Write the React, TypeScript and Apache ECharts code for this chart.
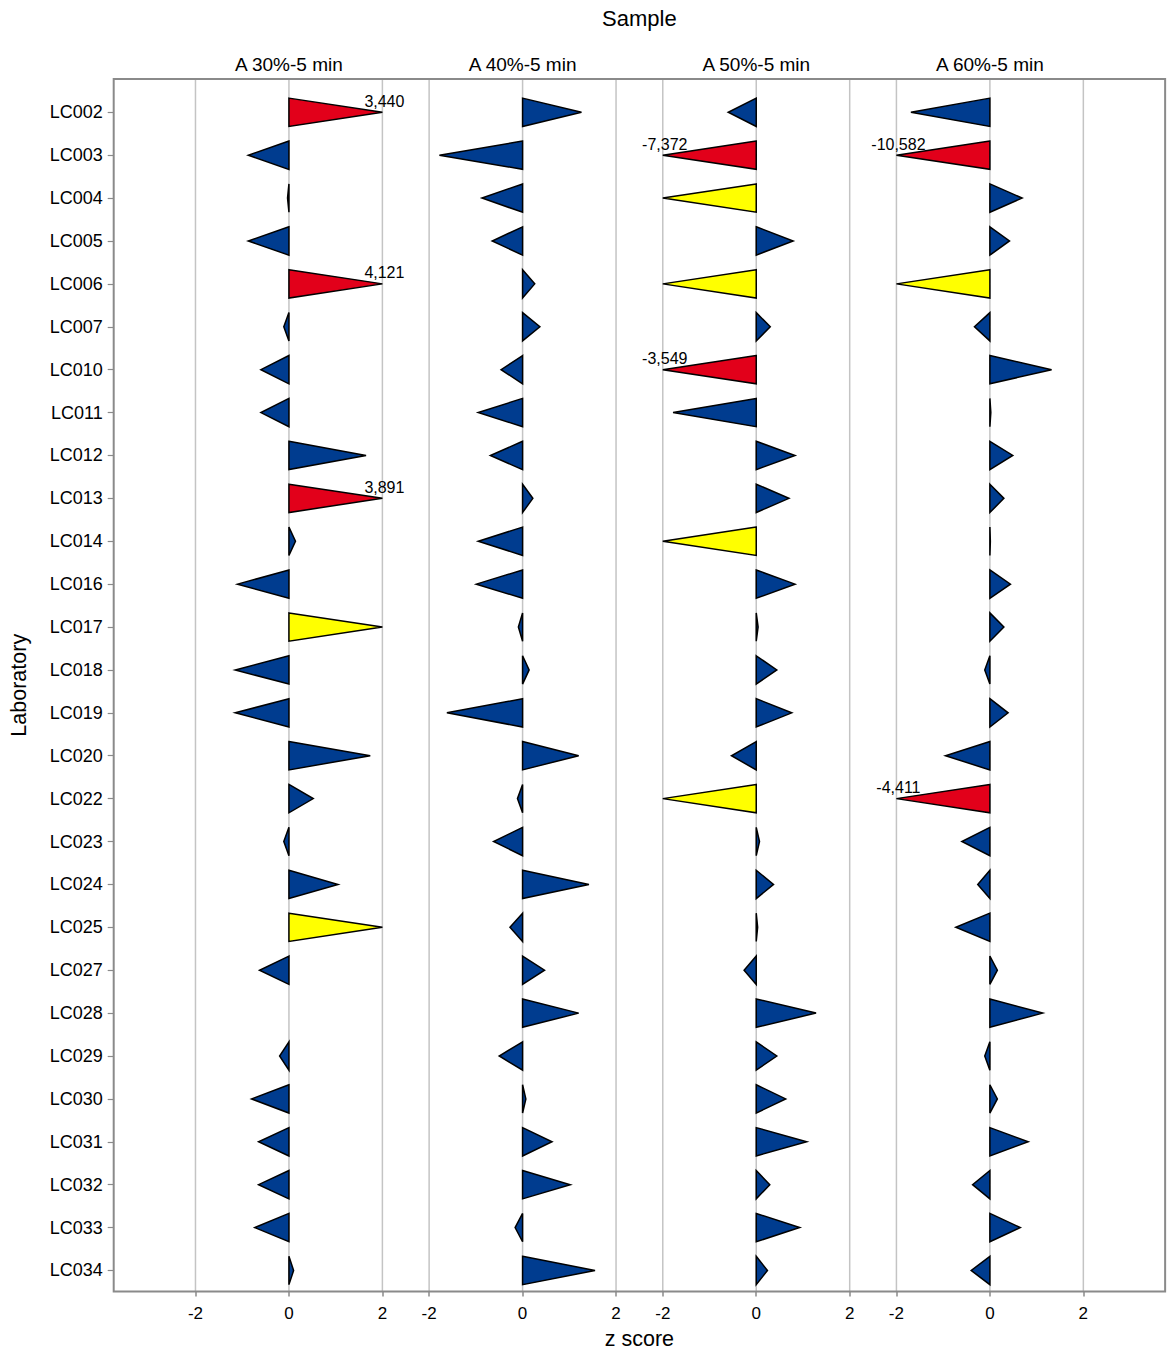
import React, { useEffect, useRef } from "react";
import * as echarts from "echarts";

// Laboratories (rows, top to bottom)
const labs = [
  "LC002", "LC003", "LC004", "LC005", "LC006", "LC007", "LC010", "LC011",
  "LC012", "LC013", "LC014", "LC016", "LC017", "LC018", "LC019", "LC020",
  "LC022", "LC023", "LC024", "LC025", "LC027", "LC028", "LC029", "LC030",
  "LC031", "LC032", "LC033", "LC034",
];

// Samples (panels, left to right)
const samples = ["A 30%-5 min", "A 40%-5 min", "A 50%-5 min", "A 60%-5 min"];

// z scores per sample, in the order of `labs` (null = no result)
const zA30: (number | null)[] = [
  3.44, -0.87, -0.03, -0.87, 4.121, -0.11, -0.6, -0.6,
  1.65, 3.891, 0.14, -1.1, 2.5, -1.15, -1.15, 1.74,
  0.52, -0.11, 1.05, 2.2, -0.63, null, -0.2, -0.8,
  -0.65, -0.65, -0.73, 0.1,
];
const zA40: (number | null)[] = [
  1.26, -1.78, -0.87, -0.65, 0.26, 0.37, -0.46, -0.95,
  -0.69, 0.22, -0.95, -0.99, -0.09, 0.14, -1.62, 1.2,
  -0.11, -0.62, 1.42, -0.27, 0.47, 1.2, -0.5, 0.07,
  0.63, 1.02, -0.16, 1.55,
];
const zA50: (number | null)[] = [
  -0.6, -7.372, -2.4, 0.79, -2.6, 0.3, -3.549, -1.78,
  0.83, 0.7, -2.2, 0.83, 0.04, 0.44, 0.76, -0.53,
  -2.4, 0.07, 0.37, 0.03, -0.26, 1.28, 0.44, 0.63,
  1.08, 0.29, 0.93, 0.24,
];
const zA60: (number | null)[] = [
  -1.69, -10.582, 0.69, 0.42, -2.3, -0.33, 1.32, 0.02,
  0.49, 0.3, 0.01, 0.44, 0.3, -0.11, 0.39, -0.95,
  -4.411, -0.6, -0.26, -0.73, 0.16, 1.13, -0.11, 0.16,
  0.82, -0.37, 0.65, -0.4,
];
const series = [zA30, zA40, zA50, zA60];

// Tick labels / reference lines on every z axis
const zTicks = [-2, 0, 2];

// Axis range of each panel
const panelRanges = [
  { min: -3.75, max: 3 },
  { min: -2, max: 3 },
  { min: -2, max: 3 },
  { min: -2, max: 3.75 },
];

// Layout
const PLOT_LEFT = 113.7;
const PLOT_TOP = 79;
const PLOT_BOTTOM = 1291.5;
const UNIT_PX = 46.73;
const Y_MIN = -0.776;
const Y_MAX = 27.49;
const CAP = 2; // triangles are drawn up to |z| = 2
const FONT = "'Liberation Sans', Arial, sans-serif";

const BLUE = "#003c8f";
const YELLOW = "#ffff00";
const RED = "#e2001a";
const FRAME = "#8a8a8a";
const GRID = "#c4c4c4";

const fmt = (v: number) => v.toFixed(3).replace(".", ",");

export default function App() {
  const ref = useRef<HTMLDivElement>(null);

  useEffect(() => {
    document.body.style.margin = "0";
    if (!ref.current) return;
    const chart = echarts.init(ref.current, null, { renderer: "svg" });

    // panel geometry from the axis ranges
    const lefts: number[] = [];
    const widths: number[] = [];
    let x = PLOT_LEFT;
    panelRanges.forEach((r) => {
      const w = (r.max - r.min) * UNIT_PX;
      lefts.push(x);
      widths.push(w);
      x += w;
    });
    const plotRight = x;
    const plotHeight = PLOT_BOTTOM - PLOT_TOP;

    const grids = panelRanges.map((_, i) => ({
      left: lefts[i],
      top: PLOT_TOP,
      width: widths[i],
      height: plotHeight,
      containLabel: false,
    }));

    const xAxes = panelRanges.map((r, i) => ({
      type: "value",
      gridIndex: i,
      min: r.min,
      max: r.max,
      position: "bottom",
      axisLine: { show: false, onZero: false },
      axisTick: {
        show: true,
        customValues: zTicks,
        length: 5,
        lineStyle: { color: FRAME, width: 1.5 },
      },
      axisLabel: {
        customValues: zTicks,
        color: "#000",
        fontSize: 17,
        fontFamily: FONT,
        margin: 13,
        formatter: (v: number) => String(v),
      },
      splitLine: { show: false },
    }));

    const yAxes = panelRanges.map((_, i) => ({
      type: "value",
      gridIndex: i,
      min: Y_MIN,
      max: Y_MAX,
      inverse: true,
      position: "left",
      show: i === 0,
      axisLine: { show: false, onZero: false },
      axisTick: {
        show: i === 0,
        customValues: labs.map((_, k) => k),
        length: 6,
        lineStyle: { color: FRAME, width: 1.2 },
      },
      axisLabel: {
        show: i === 0,
        customValues: labs.map((_, k) => k),
        formatter: (v: number) => labs[Math.round(v)] ?? "",
        color: "#000",
        fontSize: 18,
        fontFamily: FONT,
        margin: 11,
      },
      splitLine: { show: false },
    }));

    // vertical reference lines at the z ticks
    const gridLineSeries = panelRanges.map((_, i) => ({
      type: "custom",
      xAxisIndex: i,
      yAxisIndex: i,
      z: 1,
      silent: true,
      data: zTicks.map((t) => [t]),
      encode: { x: 0 },
      renderItem: (_p: any, api: any) => {
        const t = api.value(0);
        const a = api.coord([t, Y_MIN]);
        const b = api.coord([t, Y_MAX]);
        return {
          type: "line",
          shape: { x1: a[0], y1: a[1], x2: b[0], y2: b[1] },
          style: { stroke: GRID, lineWidth: 1.5 },
        };
      },
    }));

    // one triangle per laboratory and sample, from 0 to the (capped) z score
    const triangleSeries = series.map((vals, i) => ({
      type: "custom",
      xAxisIndex: i,
      yAxisIndex: i,
      z: 3,
      silent: true,
      data: vals
        .map((v, k) => (v === null ? null : [k, v]))
        .filter((d) => d !== null),
      encode: { x: 1, y: 0 },
      renderItem: (_p: any, api: any) => {
        const row = api.value(0);
        const v = api.value(1);
        const shown = Math.max(-CAP, Math.min(CAP, v));
        const base = api.coord([0, row]);
        const tip = api.coord([shown, row]);
        const half = Math.abs(api.size([0, 1])[1]) * 0.33;
        const a = Math.abs(v);
        const fill = a >= 3 ? RED : a >= 2 ? YELLOW : BLUE;
        const children: any[] = [
          {
            type: "polygon",
            shape: {
              points: [
                [base[0], base[1] - half],
                [tip[0], tip[1]],
                [base[0], base[1] + half],
              ],
            },
            style: { fill, stroke: "#000", lineWidth: 1.5, lineJoin: "miter" },
          },
        ];
        if (a >= 3) {
          children.push({
            type: "text",
            x: tip[0] + 2,
            y: tip[1] - 3,
            style: {
              text: fmt(v),
              fill: "#000",
              fontSize: 16,
              fontFamily: FONT,
              align: "center",
              verticalAlign: "bottom",
            },
          });
        }
        return { type: "group", children };
      },
    }));

    const zeroX = panelRanges.map((r, i) => lefts[i] + (0 - r.min) * UNIT_PX);
    const midX = (PLOT_LEFT + plotRight) / 2;

    const graphics: any[] = [
      {
        type: "rect",
        z: 10,
        silent: true,
        shape: {
          x: PLOT_LEFT,
          y: PLOT_TOP,
          width: plotRight - PLOT_LEFT,
          height: plotHeight,
        },
        style: { fill: "none", stroke: FRAME, lineWidth: 2 },
      },
      {
        type: "text",
        x: midX,
        y: 18,
        style: {
          text: "Sample",
          fill: "#000",
          fontSize: 22,
          fontFamily: FONT,
          align: "center",
          verticalAlign: "middle",
        },
      },
      {
        type: "text",
        x: midX,
        y: 1339,
        style: {
          text: "z score",
          fill: "#000",
          fontSize: 21.5,
          fontFamily: FONT,
          align: "center",
          verticalAlign: "middle",
        },
      },
      {
        type: "text",
        x: 19,
        y: (PLOT_TOP + PLOT_BOTTOM) / 2,
        rotation: Math.PI / 2,
        style: {
          text: "Laboratory",
          fill: "#000",
          fontSize: 21.5,
          fontFamily: FONT,
          align: "center",
          verticalAlign: "middle",
        },
      },
      ...samples.map((s, i) => ({
        type: "text",
        x: zeroX[i],
        y: 64,
        style: {
          text: s,
          fill: "#000",
          fontSize: 19,
          fontFamily: FONT,
          align: "center",
          verticalAlign: "middle",
        },
      })),
    ];

    chart.setOption({
      animation: false,
      backgroundColor: "#fff",
      grid: grids,
      xAxis: xAxes,
      yAxis: yAxes,
      series: [...gridLineSeries, ...triangleSeries],
      graphic: graphics,
    });

    return () => chart.dispose();
  }, []);

  return <div ref={ref} style={{ width: 1168, height: 1351 }} />;
}
